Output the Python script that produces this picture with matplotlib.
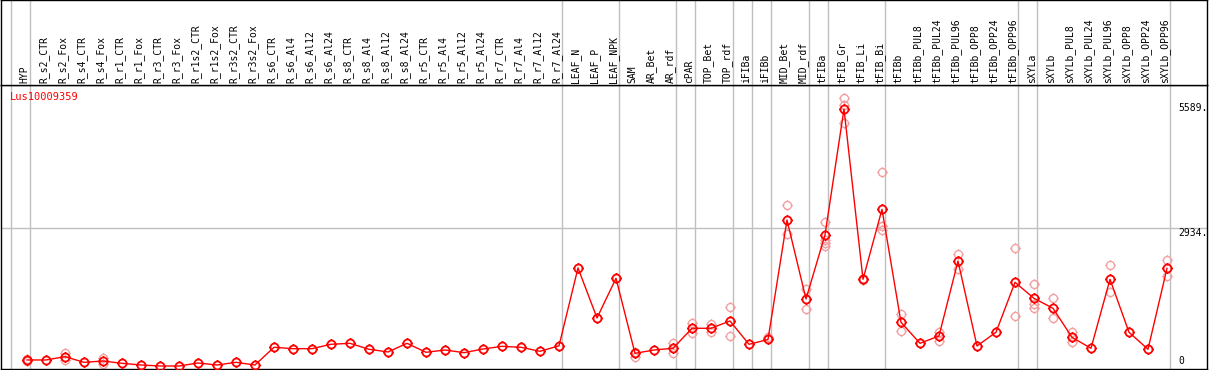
import numpy as np
import matplotlib
matplotlib.use("Agg")
import matplotlib.pyplot as plt
from matplotlib.path import Path

# sample names (x categories)
labels = ["HYP",
          "R_s2_CTR", "R_s2_Fox", "R_s4_CTR", "R_s4_Fox", "R_r1_CTR", "R_r1_Fox",
          "R_r3_CTR", "R_r3_Fox", "R_r1s2_CTR", "R_r1s2_Fox", "R_r3s2_CTR", "R_r3s2_Fox",
          "R_s6_CTR", "R_s6_Al4", "R_s6_Al12", "R_s6_Al24",
          "R_s8_CTR", "R_s8_Al4", "R_s8_Al12", "R_s8_Al24",
          "R_r5_CTR", "R_r5_Al4", "R_r5_Al12", "R_r5_Al24",
          "R_r7_CTR", "R_r7_Al4", "R_r7_Al12", "R_r7_Al24",
          "LEAF_N", "LEAF_P", "LEAF_NPK", "SAM", "AR_Bet", "AR_rdf", "cPAR",
          "TOP_Bet", "TOP_rdf", "iFIBa", "iFIBb", "MID_Bet", "MID_rdf", "tFIBa",
          "tFIB_Gr", "tFIB_Li", "tFIB_Bi", "tFIBb",
          "tFIBb_PUL8", "tFIBb_PUL24", "tFIBb_PUL96", "tFIBb_OPP8", "tFIBb_OPP24", "tFIBb_OPP96",
          "sXYLa", "sXYLb",
          "sXYLb_PUL8", "sXYLb_PUL24", "sXYLb_PUL96", "sXYLb_OPP8", "sXYLb_OPP24", "sXYLb_OPP96"]

# mean expression per sample
means = [128, 128, 198, 78, 106, 57, 21, 0, 0, 64, 21, 78, 21,
         397, 368, 368, 461, 482, 355, 298, 482,
         291, 340, 283, 361, 418, 397, 312, 429,
         2083, 1020, 1863, 269, 340, 376, 801,
         801, 956, 461, 563, 3102, 1424, 2784,
         5461, 1842, 3329, 928,
         482, 638, 2231, 425, 717, 1778,
         1438, 1226,
         609, 376, 1842, 717, 355, 2076]

# replicate values (only where they show apart from the mean)
replicates = [[100, 150], [], [271, 128], [], [176, 36], [], [], [], [], [], [], [], [],
              [], [], [], [], [], [], [], [],
              [], [], [], [], [], [], [], [],
              [], [], [], [198, 291], [], [482, 283], [907, 694],
              [886, 730], [1247, 638], [], [624], [3414, 2805], [1636, 1204], [3054, 2607, 2557, 2678],
              [5689, 5546, 5157], [1842, 1830], [4116, 2975, 2890], [1098, 754],
              [], [730, 539], [2380, 2061], [], [], [2501, 1063],
              [1736, 1318, 1233], [1438, 1020],
              [716, 517], [], [2146, 1566], [], [], [2252, 1912]]

# group separators after these sample indices
separators = [-1, 0, 28, 31, 34, 35, 37, 38, 39, 41, 42, 45, 52, 53, 60]

ymax_label = 5589
ymid_label = 2934

W, H = 1209, 370
fig = plt.figure(figsize=(W / 100, H / 100), dpi=100)

xlim = (-26 / 19, -26 / 19 + 1206 / 19)
ylim = (-64, 5971)

ax = fig.add_axes([1 / W, 1 / H, 1206 / W, 284 / H])
axl = fig.add_axes([1 / W, 285 / H, 1206 / W, 85 / H])

mono = "DejaVu Sans Mono"
grey = "#c0c0c0"

# marker: open circle (polygon) with four short ticks
t = np.linspace(0, 2 * np.pi, 33)
ring = list(zip(np.cos(t), np.sin(t)))
tk = 1.3
verts = ring + [(0, 1), (0, tk), (0, -1), (0, -tk), (1, 0), (tk, 0), (-1, 0), (-tk, 0)]
codes = [Path.MOVETO] + [Path.LINETO] * (len(ring) - 1) + [Path.MOVETO, Path.LINETO] * 4
mk = Path(verts, codes)

x = np.arange(len(labels))

for k in separators:
    ax.axvline(k + 0.16, color=grey, lw=1, zorder=1)
    axl.axvline(k + 0.16, color=grey, lw=1, zorder=1)
ax.axhline(ymid_label, color=grey, lw=1, zorder=1)

for i, reps in enumerate(replicates):
    if reps:
        ax.plot([i] * len(reps), reps, linestyle="none", marker=mk, markersize=7.5,
                markerfacecolor="none", markeredgecolor="#f2a0a0", markeredgewidth=1.0, zorder=2)

ax.plot(x, means, color="#ff0000", lw=1, zorder=3)
ax.plot(x, means, linestyle="none", marker=mk, markersize=7.5, markerfacecolor="none",
        markeredgecolor="#ff0000", markeredgewidth=1.3, zorder=4)

ax.set_xlim(*xlim)
ax.set_ylim(*ylim)
ax.set_xticks([])
ax.set_yticks([])

ax.text(0.0075, 0.958, "Lus10009359", color="#ff0000", family=mono, fontsize=7.5,
        transform=ax.transAxes, ha="left", va="center")
xr = 60.58
ax.text(xr, ymax_label, "5589.", family=mono, fontsize=7, ha="left", va="top")
ax.text(xr, ymid_label, "2934.", family=mono, fontsize=7, ha="left", va="top")
ax.text(xr, 0, "0", family=mono, fontsize=7, ha="left", va="bottom")

axl.set_xlim(*xlim)
axl.set_ylim(0, 1)
axl.set_xticks([])
axl.set_yticks([])
for i, lab in enumerate(labels):
    axl.text(i - 0.13, 0.025, lab, rotation=90, family=mono, fontsize=7,
             ha="center", va="bottom")

for a in (ax, axl):
    for s in a.spines.values():
        s.set_color("black")
        s.set_linewidth(1)

fig.savefig("out.png", dpi=100)
